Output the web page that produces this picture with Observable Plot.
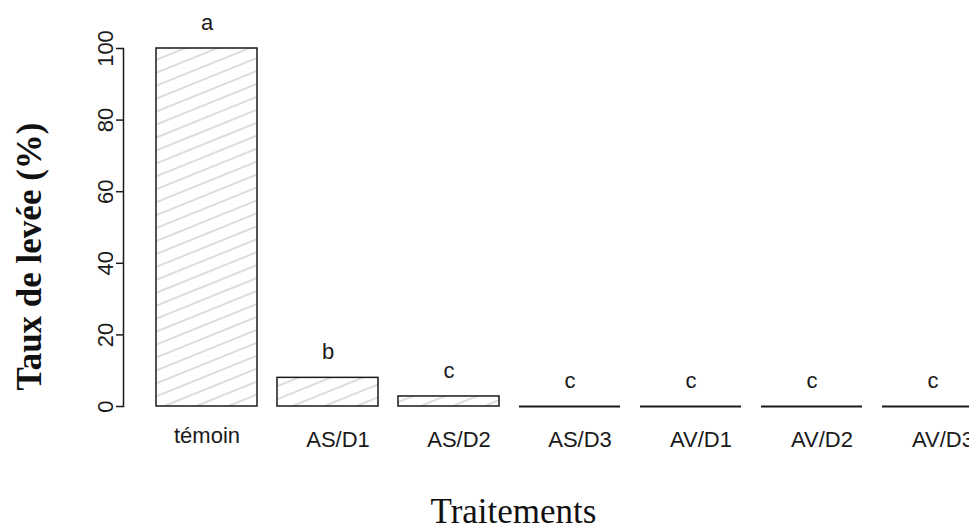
<!DOCTYPE html>
<html>
<head>
<meta charset="utf-8">
<script src="https://cdn.jsdelivr.net/npm/d3@7"></script>
<script src="https://cdn.jsdelivr.net/npm/@observablehq/plot@0.6"></script>
<style>
  body { margin: 0; background: #ffffff; }
  #chart svg { display: block; }
</style>
</head>
<body>
<div id="chart"></div>
<script>
// Seedling emergence rate per treatment, with significance group letters
const treatments = ["témoin", "AS/D1", "AS/D2", "AS/D3", "AV/D1", "AV/D2", "AV/D3"];
const emergence = [100, 8, 2.8, 0, 0, 0, 0];
const groups = ["a", "b", "c", "c", "c", "c", "c"];
const yTicks = [0, 20, 40, 60, 80, 100];
const yTitle = "Taux de levée (%)";
const xTitle = "Traitements";

const rows = treatments.map((t, i) => ({ treatment: t, value: emergence[i], group: groups[i] }));

const W = 969, H = 528;
const mLeft = 123, mTop = 48, mBottom = 122, mRight = 0;
const ink = "#1a1a1a";

// Diagonal hatch fill for the bars
function hatchDefs() {
  const defs = d3.create("svg:defs");
  const p = defs.append("pattern")
    .attr("id", "hatch")
    .attr("patternUnits", "userSpaceOnUse")
    .attr("width", 12).attr("height", 12)
    .attr("patternTransform", "rotate(-22)");
  p.append("rect").attr("width", 12).attr("height", 12).attr("fill", "#ffffff");
  p.append("line")
    .attr("x1", 0).attr("x2", 12).attr("y1", 6).attr("y2", 6)
    .attr("stroke", "#c6c6c6").attr("stroke-width", 1.2);
  return defs.node();
}

const frameMidX = (mLeft + W - mRight) / 2;
const frameMidY = (mTop + H - mBottom) / 2;

const chart = Plot.plot({
  width: W,
  height: H,
  marginLeft: mLeft,
  marginRight: mRight,
  marginTop: mTop,
  marginBottom: mBottom,
  style: { fontFamily: "Liberation Sans, Arial, sans-serif", color: ink, background: "#ffffff" },
  x: {
    type: "band",
    domain: treatments,
    range: [154, 984.25],
    paddingInner: 1 / 6,
    paddingOuter: 0,
    axis: null
  },
  y: { domain: [0, 100] },
  marks: [
    hatchDefs,
    Plot.barY(rows, { x: "treatment", y: "value", fill: "url(#hatch)", stroke: ink, strokeWidth: 1.5 }),
    Plot.tickY(rows.filter(d => d.value === 0), { x: "treatment", y: "value", stroke: ink, strokeWidth: 1.8 }),
    // group letters above each bar
    Plot.text(rows, { x: "treatment", y: "value", text: "group", dy: -26, fontSize: 22, fill: ink }),
    // y axis: line, ticks and rotated labels
    Plot.frame({ anchor: "left", stroke: ink, strokeWidth: 1.5 }),
    Plot.axisY({ ticks: yTicks, tickSize: 7, tickFormat: () => "", label: null, stroke: ink, strokeWidth: 1.5 }),
    Plot.text(yTicks, { y: d => d, text: d => String(d), frameAnchor: "left", textAnchor: "middle", lineAnchor: "middle",
      rotate: -90, dx: -18, fontSize: 22, fill: ink }),
    // treatment names under the bars
    Plot.text(rows.slice(0, 1), { x: "treatment", text: "treatment", frameAnchor: "bottom", lineAnchor: "middle",
      dy: 29, fontSize: 22, fill: ink }),
    Plot.text(rows.slice(1), { x: "treatment", text: "treatment", frameAnchor: "bottom", lineAnchor: "middle",
      dx: 10, dy: 33, fontSize: 22, fill: ink }),
    // axis titles
    Plot.text([yTitle], { frameAnchor: "left", textAnchor: "middle", lineAnchor: "middle", rotate: -90,
      dx: 29 - mLeft, dy: 256 - frameMidY,
      fontFamily: "Liberation Serif, Times New Roman, serif", fontWeight: "bold", fontSize: 35, fill: "#111" }),
    Plot.text([xTitle], { frameAnchor: "bottom", textAnchor: "middle", lineAnchor: "middle",
      dx: 513 - frameMidX, dy: 105,
      fontFamily: "Liberation Serif, Times New Roman, serif", fontSize: 35, fill: "#111" })
  ]
});

document.getElementById("chart").appendChild(chart);
</script>
</body>
</html>
